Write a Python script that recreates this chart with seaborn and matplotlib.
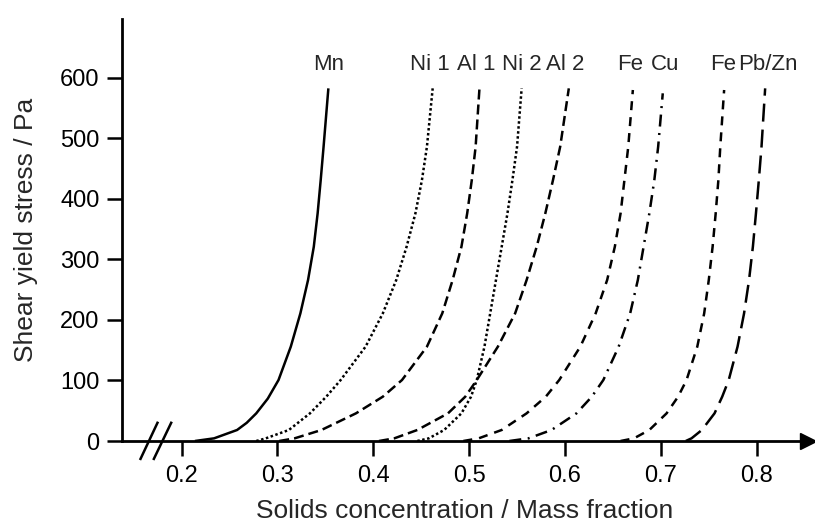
import matplotlib
matplotlib.use("Agg")
import matplotlib.pyplot as plt
import seaborn as sns

# ---- data ----
mn_x = [0.2140, 0.2340, 0.2580, 0.2680, 0.2780, 0.2900, 0.3012, 0.3140, 0.3240, 0.3320, 0.3380, 0.3420, 0.3452, 0.3482, 0.3532]
mn_y = [0, 4.4, 18.2, 30.0, 45.7, 70.0, 100.7, 155.8, 210.8, 265.9, 320.9, 376.0, 431.0, 486.1, 582.4]

ni1_x = [0.2780, 0.2880, 0.3120, 0.3340, 0.3510, 0.3660, 0.3920, 0.4100, 0.4240, 0.4348, 0.4440, 0.4508, 0.4560, 0.4620]
ni1_y = [0, 4.4, 18.2, 45.7, 73.2, 100.7, 155.8, 210.8, 265.9, 320.9, 376.0, 431.0, 486.1, 582.4]

al1_x = [0.3020, 0.3180, 0.3460, 0.3820, 0.4100, 0.4300, 0.4560, 0.4720, 0.4828, 0.4920, 0.4980, 0.5028, 0.5068, 0.5108]
al1_y = [0, 4.4, 18.2, 45.7, 73.2, 100.7, 155.8, 210.8, 265.9, 320.9, 376.0, 431.0, 486.1, 582.4]

ni2_x = [0.4460, 0.4580, 0.4740, 0.4920, 0.5020, 0.5080, 0.5160, 0.5220, 0.5280, 0.5340, 0.5400, 0.5452, 0.5500, 0.5548]
ni2_y = [0, 4.4, 18.2, 45.7, 73.2, 100.7, 155.8, 210.8, 265.9, 320.9, 376.0, 431.0, 486.1, 582.4]

al2_x = [0.4060, 0.4220, 0.4460, 0.4780, 0.4960, 0.5080, 0.5300, 0.5480, 0.5600, 0.5705, 0.5795, 0.5875, 0.5950, 0.6040]
al2_y = [0, 4.4, 18.2, 45.7, 73.2, 100.7, 155.8, 210.8, 265.9, 320.9, 376.0, 431.0, 486.1, 582.4]

fe1_x = [0.4940, 0.5100, 0.5340, 0.5600, 0.5800, 0.5940, 0.6160, 0.6320, 0.6440, 0.6520, 0.6580, 0.6620, 0.6660, 0.6708]
fe1_y = [0, 4.4, 18.2, 45.7, 73.2, 100.7, 155.8, 210.8, 265.9, 320.9, 376.0, 431.0, 486.1, 579.7]

cu_x = [0.5420, 0.5620, 0.5860, 0.6120, 0.6280, 0.6400, 0.6560, 0.6680, 0.6760, 0.6820, 0.6880, 0.6932, 0.6972, 0.7020]
cu_y = [0, 4.4, 18.2, 45.7, 73.2, 100.7, 155.8, 210.8, 265.9, 320.9, 376.0, 431.0, 486.1, 574.2]

fe2_x = [0.6580, 0.6720, 0.6880, 0.7060, 0.7180, 0.7268, 0.7380, 0.7452, 0.7500, 0.7540, 0.7572, 0.7600, 0.7620, 0.7660]
fe2_y = [0, 4.4, 18.2, 45.7, 73.2, 100.7, 155.8, 210.8, 265.9, 320.9, 376.0, 431.0, 486.1, 579.7]

pbzn_x = [0.7260, 0.7320, 0.7428, 0.7560, 0.7640, 0.7708, 0.7800, 0.7868, 0.7920, 0.7960, 0.7992, 0.8022, 0.8050, 0.8088]
pbzn_y = [0, 4.4, 18.2, 45.7, 73.2, 100.7, 155.8, 210.8, 265.9, 320.9, 376.0, 431.0, 486.1, 582.4]

labels = ["Mn", "Ni 1", "Al 1", "Ni 2", "Al 2", "Fe", "Cu", "Fe", "Pb/Zn"]
label_x = [0.3531, 0.4592, 0.5079, 0.5549, 0.6000, 0.6678, 0.7043, 0.7648, 0.8117]
label_y = 621

x_ticks = [0.2, 0.3, 0.4, 0.5, 0.6, 0.7, 0.8]
x_ticklabels = ["0.2", "0.3", "0.4", "0.5", "0.6", "0.7", "0.8"]
y_ticks = [0, 100, 200, 300, 400, 500, 600]

# ---- styling ----
sns.set_style("ticks")
plt.rcParams["font.family"] = ["Liberation Sans", "DejaVu Sans"]
plt.rcParams["lines.solid_capstyle"] = "butt"
plt.rcParams["lines.dash_capstyle"] = "butt"

fig = plt.figure(figsize=(8.15, 5.27), dpi=100)
W, H = 815, 527
left_px, right_px, top_px, bottom_px = 121.7, 807.5, 19, 441
ax = fig.add_axes([left_px / W, (H - bottom_px) / H,
                   (right_px - left_px) / W, (bottom_px - top_px) / H])

lw = 1.8
series = [
    (mn_x, mn_y, "-"),
    (ni1_x, ni1_y, (0, (1.0, 1.0))),
    (al1_x, al1_y, (0, (4.0, 2.0))),
    (ni2_x, ni2_y, (0, (1.0, 1.0))),
    (al2_x, al2_y, (0, (4.0, 2.0))),
    (fe1_x, fe1_y, (0, (3.6, 2.8))),
    (cu_x, cu_y, (0, (4.8, 2.6, 0.8, 2.6))),
    (fe2_x, fe2_y, (0, (3.6, 2.8))),
    (pbzn_x, pbzn_y, (0, (7.2, 3.2))),
]
for xs, ys, ls in series:
    sns.lineplot(x=xs, y=ys, ax=ax, color="black", linewidth=lw,
                 linestyle=ls, sort=False, estimator=None)

for lab, lx in zip(labels, label_x):
    ax.text(lx, label_y, lab, ha="center", va="center", fontsize=16)

ax.set_xlim(0.2 - (181.5 - left_px) / 958.7, 0.2 + (right_px - 181.5) / 958.7)
ax.set_ylim(0, (bottom_px - top_px) / 0.6055)

ax.set_xticks(x_ticks)
ax.set_xticklabels(x_ticklabels)
ax.set_yticks(y_ticks)
ax.tick_params(axis="both", direction="out", length=11, width=1.8,
               labelsize=17, color="black", labelcolor="black")
ax.tick_params(axis="x", pad=6)
ax.tick_params(axis="y", pad=5)

for s in ["top", "right"]:
    ax.spines[s].set_visible(False)
for s in ["left", "bottom"]:
    ax.spines[s].set_linewidth(2.0)
    ax.spines[s].set_color("black")

# arrow heads
ax.plot(1, 0, ">", color="black", ms=11, transform=ax.get_yaxis_transform(), clip_on=False)
ax.plot(0, 1, "^", color="black", ms=11, transform=ax.get_xaxis_transform(), clip_on=False)

# axis break marks
ax.plot([0.1567, 0.1755], [-31.4, 31.9], color="black", lw=1.8, clip_on=False)
ax.plot([0.1706, 0.1898], [-31.4, 31.9], color="black", lw=1.8, clip_on=False)

ax.set_xlabel("Solids concentration / Mass fraction", fontsize=19, labelpad=9)
ax.set_ylabel("Shear yield stress / Pa", fontsize=19, labelpad=16)

fig.savefig("out.png", dpi=100)
